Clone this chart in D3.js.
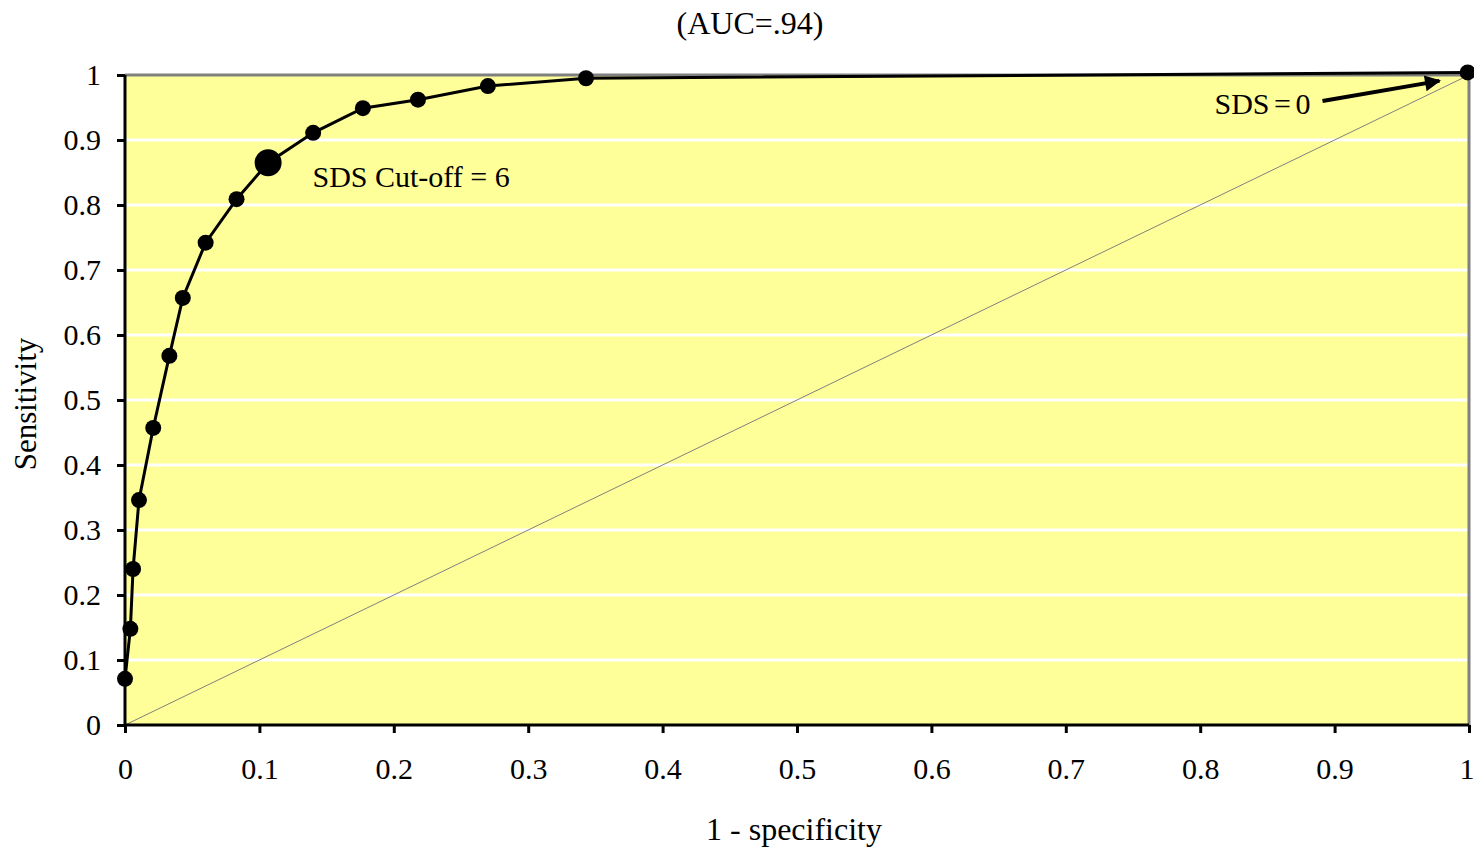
<!DOCTYPE html>
<html>
<head>
<meta charset="utf-8">
<script src="https://cdn.jsdelivr.net/npm/d3@7"></script>
<style>
  body { margin: 0; background: #fff; }
  svg { display: block; }
  text { font-family: "Liberation Serif", "Times New Roman", serif; fill: #000; }
</style>
</head>
<body>
<svg id="chart" width="1474" height="848"></svg>
<script>
// ROC curve points (1 - specificity, sensitivity)
var fpr = [0, 0.004, 0.006, 0.0104, 0.021, 0.033, 0.043, 0.060, 0.083, 0.1065, 0.140, 0.177, 0.218, 0.270, 0.343, 0.999];
var tpr = [0.071, 0.148, 0.240, 0.346, 0.457, 0.568, 0.657, 0.742, 0.809, 0.865, 0.911, 0.949, 0.962, 0.983, 0.995, 1.004];
var cutoffIndex = 9;

var xTicks = [0, 0.1, 0.2, 0.3, 0.4, 0.5, 0.6, 0.7, 0.8, 0.9, 1];
var yTicks = [0, 0.1, 0.2, 0.3, 0.4, 0.5, 0.6, 0.7, 0.8, 0.9, 1];

var title = "(AUC=.94)";
var xLabel = "1 - specificity";
var yLabel = "Sensitivity";
var cutoffLabel = "SDS Cut-off = 6";
var zeroLabel = "SDS = 0";

var svg = d3.select("#chart");
var margin = {top: 75, right: 5, bottom: 123, left: 125};
var width = 1474, height = 848;

var x = d3.scaleLinear().domain([0, 1]).range([margin.left, width - margin.right]);
var y = d3.scaleLinear().domain([0, 1]).range([height - margin.bottom, margin.top]);

var data = fpr.map(function(d, i) { return {x: d, y: tpr[i]}; });

// plot background
svg.append("rect")
    .attr("x", x(0)).attr("y", y(1))
    .attr("width", x(1) - x(0)).attr("height", y(0) - y(1))
    .attr("fill", "#ffff99");

// gridlines
svg.append("g").selectAll("line")
    .data(yTicks.slice(1, -1))
    .enter().append("line")
    .attr("x1", x(0)).attr("x2", x(1))
    .attr("y1", function(d) { return y(d); })
    .attr("y2", function(d) { return y(d); })
    .attr("stroke", "#fff")
    .attr("stroke-width", 3);

// top / right border
svg.append("path")
    .attr("d", "M" + x(0) + "," + y(1) + "H" + x(1) + "V" + y(0))
    .attr("fill", "none")
    .attr("stroke", "#808080")
    .attr("stroke-width", 3);

// diagonal reference
svg.append("line")
    .attr("x1", x(0)).attr("y1", y(0))
    .attr("x2", x(1)).attr("y2", y(1))
    .attr("stroke", "#808080")
    .attr("stroke-width", 1);

// axes
var fmt = function(d) { return d === 0 || d === 1 ? d3.format("d")(d) : d3.format(".1f")(d); };
var xAxis = d3.axisBottom(x).tickValues(xTicks).tickSize(8).tickPadding(25).tickFormat(fmt);
var yAxis = d3.axisLeft(y).tickValues(yTicks).tickSize(8).tickPadding(16).tickFormat(fmt);

var gx = svg.append("g").attr("transform", "translate(0," + y(0) + ")").call(xAxis);
var gy = svg.append("g").attr("transform", "translate(" + x(0) + ",0)").call(yAxis);

[gx, gy].forEach(function(g) {
    g.select(".domain").attr("stroke", "#000").attr("stroke-width", 3);
    g.selectAll(".tick line").attr("stroke", "#000").attr("stroke-width", 3);
    g.selectAll(".tick text")
        .style("font-family", "'Liberation Serif', 'Times New Roman', serif")
        .style("font-size", "30px")
        .attr("fill", "#000");
});
gy.select(".domain").attr("d", "M0," + y(0) + "V" + y(1));
gx.select(".domain").attr("d", "M" + x(0) + ",0H" + x(1));
// keep the last x label inside the page
gx.selectAll(".tick text").filter(function(d) { return d === 1; })
    .attr("text-anchor", "end").attr("x", 5);

// ROC line
var line = d3.line().x(function(d) { return x(d.x); }).y(function(d) { return y(d.y); });
svg.append("path")
    .datum(data)
    .attr("d", line)
    .attr("fill", "none")
    .attr("stroke", "#000")
    .attr("stroke-width", 3);

// markers
svg.append("g").selectAll("circle")
    .data(data)
    .enter().append("circle")
    .attr("cx", function(d) { return x(d.x); })
    .attr("cy", function(d) { return y(d.y); })
    .attr("r", function(d, i) { return i === cutoffIndex ? 13.5 : 8; })
    .attr("fill", "#000");

// annotations
svg.append("text")
    .attr("x", x(0.1395)).attr("y", y(0.827))
    .style("font-size", "30px")
    .text(cutoffLabel);

svg.append("defs").append("marker")
    .attr("id", "arrow")
    .attr("viewBox", "0 0 10 10")
    .attr("refX", 9).attr("refY", 5)
    .attr("markerWidth", 6).attr("markerHeight", 4)
    .attr("orient", "auto")
    .append("path").attr("d", "M0,0L10,5L0,10Z").attr("fill", "#000");

svg.append("line")
    .attr("x1", x(0.891)).attr("y1", y(0.96))
    .attr("x2", x(0.978)).attr("y2", y(0.991))
    .attr("stroke", "#000")
    .attr("stroke-width", 4)
    .attr("marker-end", "url(#arrow)");

svg.append("text")
    .attr("x", x(0.882)).attr("y", y(0.94))
    .attr("text-anchor", "end")
    .style("font-size", "30px")
    .style("word-spacing", "-3px")
    .text(zeroLabel);

// titles
svg.append("text")
    .attr("x", 750).attr("y", 34)
    .attr("text-anchor", "middle")
    .style("font-size", "32px")
    .text(title);

svg.append("text")
    .attr("x", 794).attr("y", 840)
    .attr("text-anchor", "middle")
    .style("font-size", "32px")
    .text(xLabel);

svg.append("text")
    .attr("transform", "translate(36,404) rotate(-90)")
    .attr("text-anchor", "middle")
    .style("font-size", "31px")
    .text(yLabel);
</script>
</body>
</html>
